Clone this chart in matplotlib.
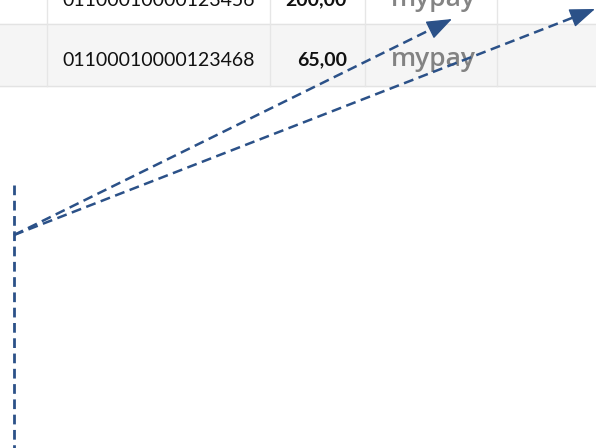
import numpy as np
import matplotlib.pyplot as plt
from matplotlib.patches import Rectangle

# table data
row_ids = ['01100010000123456', '01100010000123468']
row_amounts = ['200,00', '65,00']
row_brand = ['mypay', 'mypay']
row_tops = [-40, 24]
row_bottoms = [24, 86]
row_colors = ['#ffffff', '#f5f5f5']
col_lines = [47, 270, 365, 497]

# arrows: start point and ends
start = (14, 235)
arrow_ends = [(452, 19), (595, 9)]
vline_y = [185, 448]

fig = plt.figure(figsize=(5.96, 4.48), dpi=100)
ax = fig.add_axes([0, 0, 1, 1])
ax.set_xlim(0, 596)
ax.set_ylim(448, 0)
ax.axis('off')

for top, bot, c in zip(row_tops, row_bottoms, row_colors):
    ax.add_patch(Rectangle((0, top), 596, bot - top, color=c, zorder=0))
    ax.plot([0, 596], [bot, bot], color='#e3e3e3', lw=1, zorder=1)
for x in col_lines:
    ax.plot([x, x], [row_tops[0], row_bottoms[-1]], color='#e6e6e6', lw=1, zorder=1)

text_y = [0, 60]
for i in range(len(row_ids)):
    cy = text_y[i]
    ax.text(159, cy, row_ids[i], ha='center', va='center', fontsize=14,
            family='Lato', color='#111111')
    ax.text(347, cy, row_amounts[i], ha='right', va='center', fontsize=14,
            family='Lato', weight='bold', color='#111111')
    ax.text(433, cy, row_brand[i], ha='center', va='center', fontsize=19,
            family='Open Sans', weight='semibold', color='#6e6e6e', alpha=0.85)

col = '#2b5188'
ax.plot([start[0], start[0]], vline_y, color=col, lw=2, ls=(0, (3.5, 2)), zorder=3)
for end in arrow_ends:
    d = np.array(end) - np.array(start)
    u = d / np.hypot(*d)
    back = np.array(end) - 20 * u
    ax.plot([start[0], back[0]], [start[1], back[1]], color=col, lw=1.8,
            ls=(0, (4, 2.2)), zorder=3)
    ax.annotate('', xy=end, xytext=tuple(back),
                arrowprops=dict(arrowstyle='-|>,head_length=1.6,head_width=0.6',
                                color=col, lw=1, shrinkA=0, shrinkB=0), zorder=4)

fig.savefig('out.png', dpi=100)
